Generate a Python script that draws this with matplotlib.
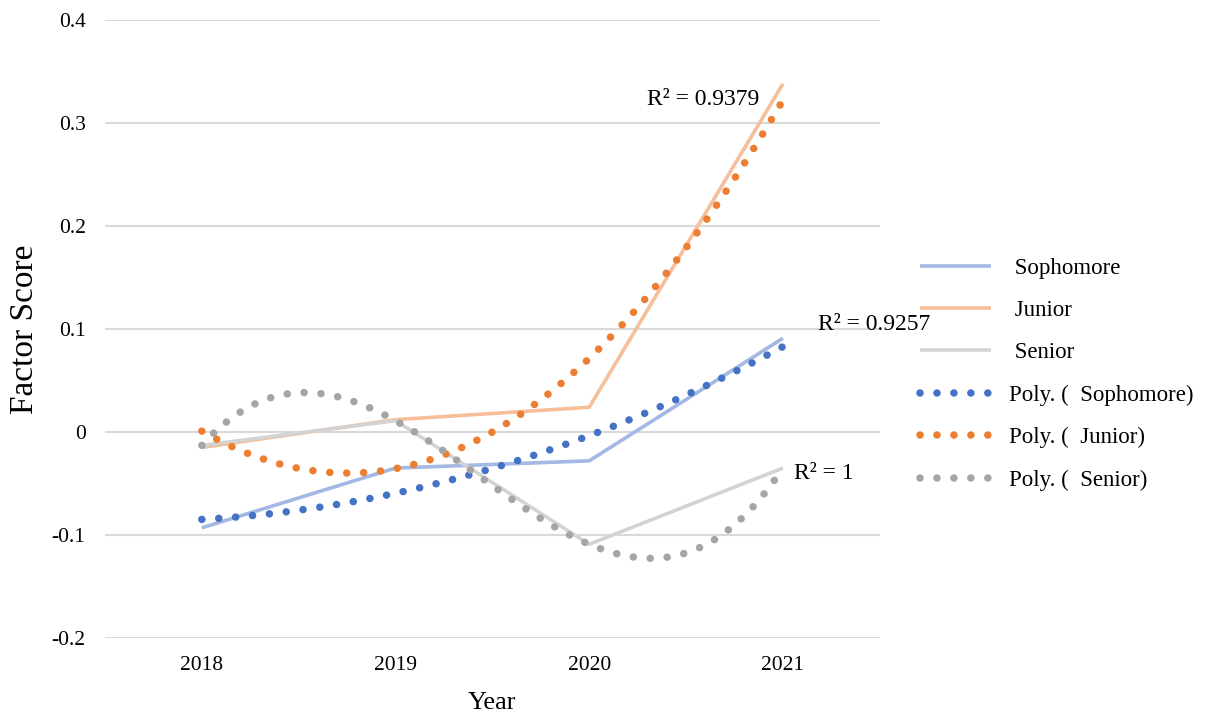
import numpy as np
import matplotlib
matplotlib.use("Agg")
import matplotlib.pyplot as plt

# Factor scores by class year
years = [2018, 2019, 2020, 2021]
sophomore = [-0.093, -0.035, -0.028, 0.091]
junior = [-0.015, 0.012, 0.024, 0.338]
senior = [-0.013, 0.011, -0.109, -0.035]

y_ticks = [-0.2, -0.1, 0.0, 0.1, 0.2, 0.3, 0.4]
y_tick_labels = ["-0.2", "-0.1", "0", "0.1", "0.2", "0.3", "0.4"]

plt.rcParams["font.family"] = ["Liberation Serif", "DejaVu Serif"]

fig = plt.figure(figsize=(12.05, 7.21), dpi=100)
ax = fig.add_axes([0.0871, 0.1151, 0.643, 0.8572])

series = [
    (" Sophomore", sophomore, "#A3B8E2", "#4472C4", 2),
    (" Junior", junior, "#F7BE9A", "#ED7D31", 2),
    (" Senior", senior, "#D3D3D3", "#A5A5A5", 3),
]

x_idx = np.arange(len(years))
x_fine = np.linspace(0, len(years) - 1, 300)
yr0 = years[0]

line_handles = []
trend_handles = []
for name, vals, lc, dc, order in series:
    h, = ax.plot(years, vals, color=lc, lw=2.6, solid_capstyle="butt", zorder=2,
                 label=name)
    line_handles.append(h)
for name, vals, lc, dc, order in series:
    # polynomial trendline fitted through the yearly values
    coef = np.polyfit(x_idx, vals, order)
    fit = np.polyval(coef, x_fine)
    h, = ax.plot(x_fine + yr0, fit, color=dc, lw=5.4, linestyle=(0, (0.01, 2.25)),
                 dash_capstyle="round", zorder=3, label="Poly. ( " + name + ")")
    trend_handles.append(h)

# R-squared labels next to each trendline
ax.text(2020.59, 0.3225, "R² = 0.9379", fontsize=17, ha="center", va="center")
ax.text(2021.47, 0.1046, "R² = 0.9257", fontsize=17, ha="center", va="center")
ax.text(2021.21, -0.0407, "R² = 1", fontsize=17, ha="center", va="center")

ax.set_xlim(2017.5, 2021.5)
ax.set_ylim(-0.2, 0.4)
ax.set_xticks(years)
ax.set_xticklabels([str(y) for y in years], fontsize=15.5)
ax.set_yticks(y_ticks)
ax.set_yticklabels(y_tick_labels, fontsize=15.5)
ax.tick_params(length=0)
ax.tick_params(axis="y", pad=14)
ax.tick_params(axis="x", pad=13)
ax.yaxis.grid(True, color="#D9D9D9", lw=1.5)
ax.set_axisbelow(True)
for s in ax.spines.values():
    s.set_visible(False)

ax.set_xlabel("Year", fontsize=19, labelpad=12)
ax.set_ylabel("Factor Score", fontsize=24, labelpad=8)

fig.legend(handles=line_handles + trend_handles, loc="center left",
           bbox_to_anchor=(0.7635, 0.481), frameon=False, fontsize=16.5,
           handlelength=3.1, handletextpad=0.8, labelspacing=0.93,
           borderpad=0, borderaxespad=0)

fig.savefig("out.png", dpi=100)
